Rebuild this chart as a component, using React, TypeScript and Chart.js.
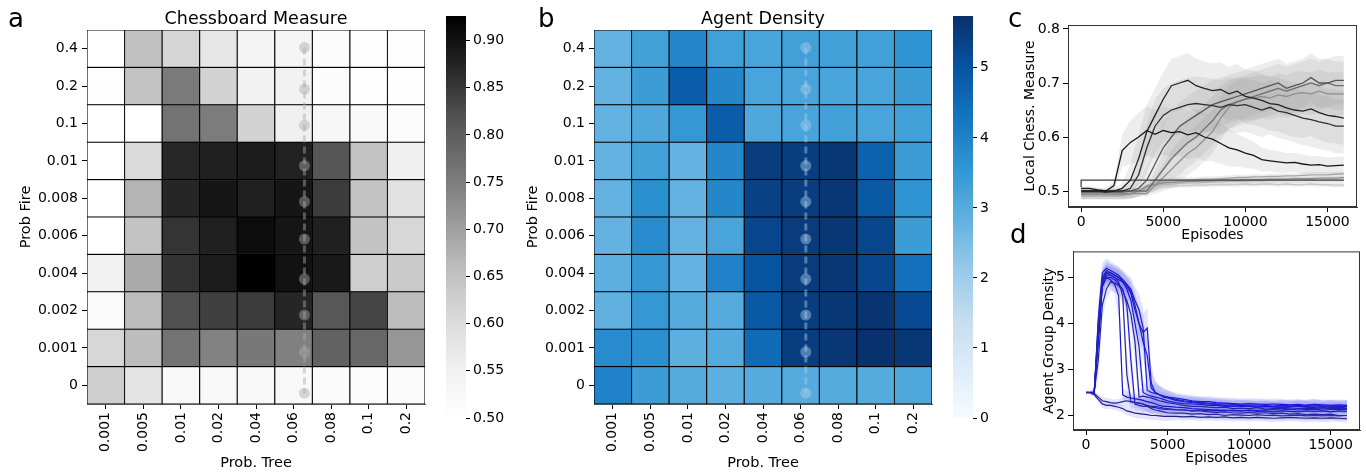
import React, { useEffect, useRef } from "react";
import { Chart, registerables } from "chart.js";

Chart.register(...registerables);

const FONT = "'DejaVu Sans', 'Liberation Sans', sans-serif";
Chart.defaults.font.family = FONT;
Chart.defaults.color = "#000";

// ---------------- heatmap data ----------------
const PROB_TREE = ["0.001", "0.005", "0.01", "0.02", "0.04", "0.06", "0.08", "0.1", "0.2"];
const PROB_FIRE = ["0.4", "0.2", "0.1", "0.01", "0.008", "0.006", "0.004", "0.002", "0.001", "0"];

// rows top (0.4) to bottom (0), columns PROB_TREE
const CHESS = [
  [0.5, 0.653, 0.615, 0.573, 0.538, 0.535, 0.51, 0.507, 0.507],
  [0.507, 0.648, 0.755, 0.617, 0.545, 0.545, 0.51, 0.503, 0.503],
  [0.5, 0.5, 0.766, 0.753, 0.617, 0.553, 0.53, 0.52, 0.51],
  [0.5, 0.605, 0.87, 0.88, 0.885, 0.878, 0.813, 0.648, 0.553],
  [0.5, 0.672, 0.871, 0.894, 0.88, 0.894, 0.845, 0.648, 0.588],
  [0.5, 0.648, 0.855, 0.88, 0.909, 0.894, 0.88, 0.648, 0.61],
  [0.546, 0.686, 0.856, 0.885, 0.924, 0.9, 0.89, 0.627, 0.637],
  [0.517, 0.66, 0.822, 0.841, 0.845, 0.871, 0.811, 0.835, 0.66],
  [0.61, 0.66, 0.766, 0.743, 0.759, 0.747, 0.794, 0.786, 0.713],
  [0.627, 0.581, 0.525, 0.525, 0.525, 0.525, 0.517, 0.51, 0.517],
];

const DENSITY = [
  [2.8, 3.3, 3.9, 3.3, 3.2, 3.3, 3.3, 3.3, 3.6],
  [2.8, 3.4, 4.8, 3.9, 3.2, 3.2, 3.2, 3.2, 3.4],
  [2.8, 3.1, 3.5, 4.8, 3.1, 3.2, 3.3, 3.2, 3.3],
  [2.8, 3.3, 2.8, 3.9, 5.5, 5.45, 5.6, 4.7, 3.4],
  [2.8, 3.7, 2.8, 3.9, 5.4, 5.45, 5.6, 4.9, 3.6],
  [2.8, 3.8, 2.8, 3.2, 5.3, 5.5, 5.6, 5.3, 3.4],
  [2.9, 3.5, 2.8, 4.0, 5.0, 5.5, 5.6, 5.3, 4.4],
  [2.85, 3.5, 3.0, 3.0, 4.9, 5.45, 5.6, 5.65, 5.2],
  [3.8, 3.7, 2.9, 3.0, 4.5, 5.45, 5.6, 5.7, 5.6],
  [4.0, 3.4, 3.0, 2.9, 3.0, 3.0, 3.0, 3.0, 3.1],
];

const CHESS_RANGE = [0.5, 0.926];
const DENSITY_RANGE = [0, 5.74];
const CHESS_TICKS = [0.5, 0.55, 0.6, 0.65, 0.7, 0.75, 0.8, 0.85, 0.9];
const DENSITY_TICKS = [0, 1, 2, 3, 4, 5];

// dashed path overlay (row positions, top to bottom)
const PATH_Y = [9.53, 8.42, 7.45, 6.37, 5.41, 4.41, 3.34, 2.38, 1.39, 0.29];
const PATH_X_A = 5.29;
const PATH_X_B = 5.14;

// colormaps
const GREYS = ["#ffffff", "#f0f0f0", "#d9d9d9", "#bdbdbd", "#969696", "#737373", "#525252", "#252525", "#000000"];
const BLUES = ["#f7fbff", "#ddecf8", "#c2dcf0", "#95c9ea", "#5eb0e0", "#2f95d2", "#1474c0", "#0753a0", "#08306b"];

// ---------------- panel c data ----------------
const EP_C = [0, 500, 1000, 1500, 2000, 2500, 3000, 3500, 4000, 4500, 5000, 5500, 6000, 6500, 7000, 7500, 8000, 8500, 9000, 9500, 10000, 10500, 11000, 11500, 12000, 12500, 13000, 13500, 14000, 14500, 15000, 15500, 16000];

const C1 = [0.505, 0.505, 0.502, 0.5, 0.51, 0.575, 0.59, 0.6, 0.612, 0.605, 0.612, 0.608, 0.61, 0.604, 0.608, 0.6, 0.596, 0.588, 0.58, 0.576, 0.57, 0.566, 0.558, 0.556, 0.554, 0.552, 0.553, 0.55, 0.548, 0.549, 0.546, 0.547, 0.548];
const C2 = [0.5, 0.5, 0.5, 0.498, 0.5, 0.505, 0.52, 0.56, 0.61, 0.64, 0.67, 0.695, 0.7, 0.705, 0.695, 0.69, 0.686, 0.688, 0.68, 0.685, 0.675, 0.672, 0.668, 0.662, 0.66, 0.654, 0.65, 0.648, 0.652, 0.645, 0.64, 0.638, 0.635];
const C3 = [0.5, 0.5, 0.5, 0.5, 0.5, 0.5, 0.505, 0.53, 0.58, 0.62, 0.64, 0.65, 0.655, 0.66, 0.662, 0.66, 0.658, 0.655, 0.66, 0.658, 0.66, 0.655, 0.65, 0.655, 0.648, 0.645, 0.64, 0.635, 0.632, 0.628, 0.625, 0.62, 0.62];
const C4 = [0.498, 0.498, 0.498, 0.498, 0.498, 0.498, 0.5, 0.505, 0.52, 0.55, 0.58, 0.6, 0.62, 0.63, 0.64, 0.65, 0.66, 0.665, 0.67, 0.675, 0.68, 0.685, 0.69, 0.695, 0.7, 0.69, 0.695, 0.7, 0.71, 0.7, 0.7, 0.705, 0.705];
const C5 = [0.5, 0.5, 0.5, 0.5, 0.5, 0.5, 0.5, 0.5, 0.5, 0.52, 0.54, 0.56, 0.575, 0.59, 0.6, 0.615, 0.63, 0.65, 0.66, 0.665, 0.67, 0.675, 0.68, 0.685, 0.69, 0.685, 0.69, 0.695, 0.7, 0.695, 0.7, 0.695, 0.695];
const C6 = [0.495, 0.495, 0.495, 0.495, 0.495, 0.495, 0.495, 0.495, 0.495, 0.51, 0.525, 0.54, 0.555, 0.57, 0.58, 0.595, 0.61, 0.635, 0.655, 0.665, 0.67, 0.672, 0.675, 0.672, 0.678, 0.675, 0.68, 0.682, 0.68, 0.685, 0.68, 0.68, 0.68];
const C7 = [0.507, 0.52, 0.52, 0.52, 0.52, 0.52, 0.52, 0.52, 0.52, 0.52, 0.52, 0.52, 0.52, 0.52, 0.52, 0.52, 0.52, 0.52, 0.52, 0.52, 0.52, 0.52, 0.52, 0.52, 0.52, 0.52, 0.52, 0.52, 0.52, 0.52, 0.52, 0.52, 0.52];
const C8 = [0.495, 0.495, 0.495, 0.495, 0.495, 0.495, 0.495, 0.5, 0.51, 0.515, 0.518, 0.52, 0.52, 0.52, 0.521, 0.522, 0.522, 0.523, 0.524, 0.525, 0.525, 0.526, 0.526, 0.527, 0.527, 0.528, 0.528, 0.529, 0.53, 0.53, 0.53, 0.531, 0.532];
const C9 = [0.49, 0.49, 0.49, 0.49, 0.49, 0.49, 0.492, 0.498, 0.505, 0.51, 0.512, 0.513, 0.514, 0.515, 0.515, 0.516, 0.517, 0.517, 0.518, 0.518, 0.518, 0.519, 0.519, 0.52, 0.52, 0.52, 0.52, 0.52, 0.521, 0.52, 0.521, 0.52, 0.52];
const C10 = [0.487, 0.487, 0.487, 0.487, 0.487, 0.487, 0.488, 0.492, 0.5, 0.505, 0.508, 0.509, 0.51, 0.51, 0.511, 0.511, 0.512, 0.512, 0.512, 0.512, 0.513, 0.512, 0.513, 0.513, 0.512, 0.513, 0.512, 0.512, 0.513, 0.512, 0.512, 0.511, 0.511];
const C11 = [0.493, 0.493, 0.493, 0.493, 0.493, 0.493, 0.495, 0.5, 0.508, 0.512, 0.515, 0.516, 0.517, 0.518, 0.518, 0.519, 0.519, 0.52, 0.52, 0.52, 0.521, 0.521, 0.521, 0.522, 0.522, 0.522, 0.523, 0.523, 0.523, 0.524, 0.524, 0.524, 0.525];

const C1_SD = [0.004, 0.004, 0.004, 0.004, 0.01, 0.03, 0.04, 0.045, 0.045, 0.045, 0.045, 0.045, 0.045, 0.045, 0.045, 0.045, 0.04, 0.038, 0.035, 0.03, 0.028, 0.025, 0.022, 0.02, 0.02, 0.018, 0.018, 0.018, 0.016, 0.016, 0.016, 0.016, 0.016];
const C2_SD = [0.004, 0.004, 0.004, 0.004, 0.006, 0.01, 0.03, 0.045, 0.05, 0.05, 0.05, 0.05, 0.05, 0.05, 0.05, 0.05, 0.05, 0.05, 0.05, 0.05, 0.05, 0.05, 0.05, 0.05, 0.05, 0.05, 0.05, 0.05, 0.05, 0.05, 0.05, 0.05, 0.05];
const C3_SD = [0.004, 0.004, 0.004, 0.004, 0.004, 0.004, 0.01, 0.03, 0.045, 0.05, 0.05, 0.05, 0.05, 0.05, 0.05, 0.05, 0.05, 0.05, 0.05, 0.05, 0.05, 0.05, 0.05, 0.05, 0.05, 0.05, 0.05, 0.05, 0.05, 0.05, 0.05, 0.05, 0.05];
const C4_SD = [0.004, 0.004, 0.004, 0.004, 0.004, 0.004, 0.004, 0.01, 0.03, 0.04, 0.045, 0.045, 0.045, 0.045, 0.045, 0.045, 0.045, 0.045, 0.045, 0.045, 0.045, 0.045, 0.045, 0.045, 0.045, 0.045, 0.045, 0.045, 0.045, 0.045, 0.045, 0.045, 0.045];
const C5_SD = [0.004, 0.004, 0.004, 0.004, 0.004, 0.004, 0.004, 0.004, 0.004, 0.02, 0.03, 0.04, 0.045, 0.045, 0.045, 0.045, 0.045, 0.045, 0.045, 0.045, 0.045, 0.045, 0.045, 0.045, 0.045, 0.045, 0.045, 0.045, 0.045, 0.045, 0.045, 0.045, 0.045];
const C6_SD = [0.004, 0.004, 0.004, 0.004, 0.004, 0.004, 0.004, 0.004, 0.004, 0.015, 0.025, 0.035, 0.04, 0.04, 0.04, 0.04, 0.04, 0.04, 0.04, 0.04, 0.04, 0.04, 0.04, 0.04, 0.04, 0.04, 0.04, 0.04, 0.04, 0.04, 0.04, 0.04, 0.04];
const C7_SD = [0.002, 0.002, 0.002, 0.002, 0.002, 0.002, 0.002, 0.002, 0.002, 0.002, 0.002, 0.002, 0.002, 0.002, 0.002, 0.002, 0.002, 0.002, 0.002, 0.002, 0.002, 0.002, 0.002, 0.002, 0.002, 0.002, 0.002, 0.002, 0.002, 0.002, 0.002, 0.002, 0.002];
const C8_SD = [0.004, 0.004, 0.004, 0.004, 0.004, 0.004, 0.004, 0.005, 0.006, 0.006, 0.005, 0.005, 0.005, 0.005, 0.005, 0.005, 0.005, 0.005, 0.005, 0.005, 0.005, 0.005, 0.005, 0.005, 0.005, 0.005, 0.005, 0.005, 0.005, 0.005, 0.005, 0.005, 0.005];
const C9_SD = [0.004, 0.004, 0.004, 0.004, 0.004, 0.004, 0.004, 0.005, 0.006, 0.006, 0.005, 0.005, 0.005, 0.005, 0.005, 0.005, 0.005, 0.005, 0.005, 0.005, 0.005, 0.005, 0.005, 0.005, 0.005, 0.005, 0.005, 0.005, 0.005, 0.005, 0.005, 0.005, 0.005];
const C10_SD = [0.003, 0.003, 0.003, 0.003, 0.003, 0.003, 0.003, 0.004, 0.005, 0.005, 0.004, 0.004, 0.004, 0.004, 0.004, 0.004, 0.004, 0.004, 0.004, 0.004, 0.004, 0.004, 0.004, 0.004, 0.004, 0.004, 0.004, 0.004, 0.004, 0.004, 0.004, 0.004, 0.004];
const C11_SD = [0.003, 0.003, 0.003, 0.003, 0.003, 0.003, 0.003, 0.004, 0.005, 0.005, 0.004, 0.004, 0.004, 0.004, 0.004, 0.004, 0.004, 0.004, 0.004, 0.004, 0.004, 0.004, 0.004, 0.004, 0.004, 0.004, 0.004, 0.004, 0.004, 0.004, 0.004, 0.004, 0.004];

const C_MEANS = [C1, C2, C3, C7, C4, C5, C11, C6, C8, C9, C10];
const C_SDS = [C1_SD, C2_SD, C3_SD, C7_SD, C4_SD, C5_SD, C11_SD, C6_SD, C8_SD, C9_SD, C10_SD];
const C_COLORS = ["#151515", "#222222", "#2e2e2e", "#474747", "#555555", "#6c6c6c", "#8a8a8a", "#8f8f8f", "#a5a5a5", "#b5b5b5", "#c8c8c8"];
const C_STEPPED = [false, false, false, true, false, false, false, false, false, false, false];

// ---------------- panel d data ----------------
const EP_D = [0, 250, 500, 750, 1000, 1250, 1500, 1750, 2000, 2250, 2500, 2750, 3000, 3250, 3500, 3750, 4000, 4250, 4500, 4750, 5000, 5500, 6000, 6500, 7000, 7500, 8000, 8500, 9000, 9500, 10000, 10500, 11000, 11500, 12000, 12500, 13000, 13500, 14000, 14500, 15000, 15500, 16000];

const D1 = [2.5, 2.5, 2.48, 2.4, 2.32, 2.3, 2.28, 2.27, 2.28, 2.3, 2.32, 2.3, 2.28, 2.27, 2.25, 2.22, 2.2, 2.2, 2.18, 2.16, 2.15, 2.13, 2.12, 2.1, 2.1, 2.08, 2.07, 2.08, 2.06, 2.05, 2.07, 2.05, 2.06, 2.04, 2.05, 2.03, 2.04, 2.02, 2.03, 2.02, 2.03, 2.0, 2.0];
const D2 = [2.5, 2.5, 2.45, 2.35, 2.25, 2.22, 2.22, 2.2, 2.18, 2.15, 2.1, 2.08, 2.05, 2.04, 2.03, 2.02, 2.0, 2.0, 1.99, 1.98, 1.98, 1.98, 1.97, 1.98, 1.96, 1.97, 1.96, 1.97, 1.95, 1.96, 1.95, 1.96, 1.95, 1.94, 1.95, 1.96, 1.95, 1.94, 1.95, 1.94, 1.95, 1.94, 1.93];
const D3 = [2.5, 2.5, 2.5, 3.6, 4.8, 5.0, 4.95, 4.85, 4.6, 2.45, 2.4, 2.38, 2.36, 2.35, 2.33, 2.3, 2.28, 2.25, 2.22, 2.2, 2.2, 2.18, 2.17, 2.15, 2.14, 2.13, 2.12, 2.12, 2.1, 2.1, 2.11, 2.09, 2.1, 2.08, 2.1, 2.09, 2.08, 2.1, 2.09, 2.1, 2.08, 2.1, 2.09];
const D4 = [2.5, 2.5, 2.5, 3.9, 4.95, 5.1, 5.05, 5.0, 4.9, 4.6, 2.9, 2.3, 2.28, 2.27, 2.25, 2.2, 2.15, 2.12, 2.1, 2.08, 2.06, 2.05, 2.05, 2.03, 2.04, 2.02, 2.03, 2.0, 2.02, 2.01, 2.0, 2.02, 2.0, 2.01, 1.99, 2.0, 2.01, 1.99, 2.0, 1.99, 2.0, 1.99, 2.0];
const D5 = [2.5, 2.5, 2.5, 3.7, 4.85, 5.0, 5.0, 4.95, 4.85, 4.75, 4.4, 3.2, 2.25, 2.22, 2.2, 2.2, 2.18, 2.17, 2.15, 2.14, 2.13, 2.12, 2.12, 2.1, 2.12, 2.1, 2.11, 2.1, 2.12, 2.1, 2.12, 2.11, 2.12, 2.13, 2.12, 2.14, 2.12, 2.13, 2.14, 2.12, 2.13, 2.14, 2.13];
const D6 = [2.5, 2.5, 2.5, 3.2, 4.4, 4.75, 4.9, 4.88, 4.82, 4.7, 4.5, 4.2, 3.6, 2.4, 2.42, 2.4, 2.38, 2.35, 2.32, 2.3, 2.28, 2.25, 2.22, 2.2, 2.2, 2.18, 2.17, 2.18, 2.15, 2.16, 2.15, 2.17, 2.14, 2.15, 2.16, 2.14, 2.15, 2.16, 2.15, 2.17, 2.15, 2.16, 2.15];
const D7 = [2.5, 2.5, 2.5, 3.8, 4.95, 5.1, 5.1, 5.05, 5.0, 4.9, 4.75, 4.5, 4.0, 3.5, 2.5, 2.45, 2.42, 2.4, 2.38, 2.35, 2.32, 2.28, 2.26, 2.25, 2.24, 2.22, 2.22, 2.2, 2.21, 2.2, 2.2, 2.19, 2.2, 2.2, 2.21, 2.2, 2.22, 2.2, 2.21, 2.2, 2.21, 2.2, 2.2];
const D8 = [2.5, 2.5, 2.5, 4.0, 5.0, 5.15, 5.1, 5.05, 5.0, 4.95, 4.85, 4.7, 4.4, 4.0, 3.8, 3.9, 2.7, 2.5, 2.45, 2.42, 2.4, 2.35, 2.32, 2.3, 2.28, 2.27, 2.25, 2.25, 2.24, 2.23, 2.22, 2.23, 2.22, 2.2, 2.22, 2.21, 2.2, 2.22, 2.24, 2.2, 2.22, 2.2, 2.22];
const D9 = [2.5, 2.5, 2.5, 3.7, 4.9, 5.05, 5.05, 5.0, 4.95, 4.9, 4.8, 4.65, 4.3, 4.0, 3.6, 3.3, 2.6, 2.5, 2.45, 2.42, 2.4, 2.38, 2.35, 2.32, 2.3, 2.3, 2.28, 2.27, 2.26, 2.25, 2.26, 2.25, 2.24, 2.25, 2.24, 2.23, 2.24, 2.22, 2.24, 2.23, 2.22, 2.23, 2.22];
const D10 = [2.5, 2.5, 2.5, 4.1, 5.1, 5.2, 5.15, 5.1, 5.05, 4.95, 4.85, 4.75, 4.5, 4.3, 3.9, 2.55, 2.5, 2.48, 2.45, 2.4, 2.38, 2.33, 2.3, 2.28, 2.27, 2.25, 2.24, 2.22, 2.2, 2.22, 2.2, 2.18, 2.19, 2.18, 2.17, 2.18, 2.2, 2.18, 2.17, 2.16, 2.17, 2.18, 2.16];

const D1_SD = [0.03, 0.03, 0.04, 0.06, 0.08, 0.08, 0.08, 0.08, 0.08, 0.1, 0.12, 0.12, 0.12, 0.12, 0.12, 0.12, 0.12, 0.1, 0.1, 0.1, 0.1, 0.09, 0.09, 0.09, 0.08, 0.08, 0.08, 0.08, 0.08, 0.08, 0.08, 0.08, 0.08, 0.08, 0.08, 0.08, 0.08, 0.08, 0.1, 0.1, 0.1, 0.1, 0.1];
const D2_SD = [0.03, 0.03, 0.04, 0.06, 0.08, 0.08, 0.08, 0.08, 0.08, 0.08, 0.1, 0.1, 0.1, 0.1, 0.1, 0.1, 0.1, 0.1, 0.1, 0.1, 0.1, 0.08, 0.08, 0.08, 0.08, 0.08, 0.08, 0.08, 0.08, 0.08, 0.08, 0.08, 0.08, 0.08, 0.08, 0.08, 0.08, 0.08, 0.08, 0.08, 0.08, 0.08, 0.08];
const D3_SD = [0.03, 0.03, 0.05, 0.4, 0.2, 0.18, 0.18, 0.2, 0.5, 0.15, 0.12, 0.12, 0.12, 0.12, 0.12, 0.12, 0.12, 0.12, 0.12, 0.12, 0.12, 0.1, 0.1, 0.1, 0.1, 0.1, 0.1, 0.1, 0.1, 0.1, 0.1, 0.1, 0.1, 0.1, 0.1, 0.1, 0.1, 0.1, 0.1, 0.1, 0.1, 0.1, 0.1];
const D4_SD = [0.03, 0.03, 0.05, 0.4, 0.2, 0.2, 0.18, 0.18, 0.2, 0.25, 0.5, 0.15, 0.12, 0.12, 0.12, 0.12, 0.12, 0.1, 0.1, 0.1, 0.1, 0.1, 0.1, 0.1, 0.1, 0.1, 0.1, 0.1, 0.1, 0.1, 0.1, 0.1, 0.1, 0.1, 0.1, 0.1, 0.1, 0.1, 0.1, 0.1, 0.1, 0.1, 0.1];
const D5_SD = [0.03, 0.03, 0.05, 0.4, 0.2, 0.18, 0.18, 0.18, 0.18, 0.2, 0.3, 0.5, 0.15, 0.12, 0.12, 0.12, 0.12, 0.12, 0.12, 0.12, 0.12, 0.1, 0.1, 0.1, 0.1, 0.1, 0.1, 0.1, 0.1, 0.1, 0.1, 0.1, 0.1, 0.1, 0.1, 0.1, 0.1, 0.1, 0.1, 0.1, 0.1, 0.1, 0.1];
const D6_SD = [0.03, 0.03, 0.05, 0.4, 0.3, 0.2, 0.2, 0.2, 0.2, 0.2, 0.25, 0.3, 0.5, 0.2, 0.15, 0.15, 0.12, 0.12, 0.12, 0.12, 0.12, 0.1, 0.1, 0.1, 0.1, 0.1, 0.1, 0.1, 0.1, 0.1, 0.1, 0.1, 0.1, 0.1, 0.1, 0.1, 0.1, 0.1, 0.1, 0.1, 0.1, 0.1, 0.1];
const D7_SD = [0.03, 0.03, 0.05, 0.4, 0.2, 0.2, 0.2, 0.2, 0.2, 0.2, 0.25, 0.3, 0.35, 0.5, 0.25, 0.18, 0.15, 0.15, 0.15, 0.15, 0.15, 0.12, 0.12, 0.12, 0.12, 0.12, 0.12, 0.12, 0.12, 0.12, 0.12, 0.12, 0.12, 0.12, 0.12, 0.12, 0.12, 0.12, 0.12, 0.12, 0.12, 0.12, 0.12];
const D8_SD = [0.03, 0.03, 0.05, 0.4, 0.2, 0.2, 0.2, 0.2, 0.2, 0.2, 0.2, 0.25, 0.3, 0.35, 0.4, 0.45, 0.4, 0.25, 0.2, 0.18, 0.15, 0.12, 0.12, 0.12, 0.12, 0.12, 0.12, 0.12, 0.12, 0.12, 0.12, 0.12, 0.12, 0.12, 0.12, 0.12, 0.12, 0.12, 0.12, 0.12, 0.12, 0.12, 0.12];
const D9_SD = [0.03, 0.03, 0.05, 0.4, 0.2, 0.2, 0.2, 0.2, 0.2, 0.2, 0.2, 0.25, 0.3, 0.35, 0.4, 0.4, 0.35, 0.25, 0.2, 0.18, 0.15, 0.12, 0.12, 0.12, 0.12, 0.12, 0.12, 0.12, 0.12, 0.12, 0.12, 0.12, 0.12, 0.12, 0.12, 0.12, 0.12, 0.12, 0.12, 0.12, 0.12, 0.12, 0.12];
const D10_SD = [0.03, 0.03, 0.05, 0.4, 0.22, 0.22, 0.2, 0.2, 0.2, 0.2, 0.22, 0.25, 0.3, 0.35, 0.45, 0.35, 0.25, 0.2, 0.18, 0.15, 0.15, 0.12, 0.12, 0.12, 0.12, 0.12, 0.12, 0.12, 0.12, 0.12, 0.12, 0.12, 0.12, 0.12, 0.12, 0.12, 0.12, 0.12, 0.12, 0.12, 0.12, 0.12, 0.12];

const D_MEANS = [D1, D2, D3, D4, D5, D6, D7, D8, D9, D10];
const D_SDS = [D1_SD, D2_SD, D3_SD, D4_SD, D5_SD, D6_SD, D7_SD, D8_SD, D9_SD, D10_SD];
const D_COLORS = ["#27279a", "#23238a", "#1a1acc", "#2a2a99", "#1c1ce0", "#25259f", "#1818d8", "#1f1fc0", "#1414e6", "#1c1cd0"];

const EP_TICKS = [0, 5000, 10000, 15000];
const C_YTICKS = [0.5, 0.6, 0.7, 0.8];
const D_YTICKS = [2, 3, 4, 5];

// ---------------- helpers ----------------
function hexToRgb(h: string) {
  return [parseInt(h.slice(1, 3), 16), parseInt(h.slice(3, 5), 16), parseInt(h.slice(5, 7), 16)];
}
function cmap(stops: string[], t: number) {
  const tt = Math.max(0, Math.min(1, t));
  const n = stops.length - 1;
  const p = tt * n;
  const i = Math.min(Math.floor(p), n - 1);
  const f = p - i;
  const a = hexToRgb(stops[i]);
  const b = hexToRgb(stops[i + 1]);
  const c = a.map((v, k) => Math.round(v + (b[k] - v) * f));
  return `rgb(${c[0]},${c[1]},${c[2]})`;
}

const tickFont = { family: FONT, size: 14 };
const labelFont = { family: FONT, size: 14.5 };

function heatmapConfig(values: number[][], stops: string[], range: number[], title: string, pathX: number, dotColor: string) {
  const cells: any[] = [];
  const colors: string[] = [];
  values.forEach((row, r) =>
    row.forEach((v, c) => {
      cells.push({ x: c, y: [9 - r, 10 - r] });
      colors.push(cmap(stops, (v - range[0]) / (range[1] - range[0])));
    })
  );
  const path = PATH_Y.map((y) => ({ x: pathX, y }));
  return {
    type: "bar",
    data: {
      datasets: [
        {
          type: "line",
          data: path,
          borderColor: dotColor,
          backgroundColor: dotColor,
          borderDash: [7, 4],
          borderWidth: 3,
          pointRadius: 5.5,
          pointBackgroundColor: dotColor,
          pointBorderWidth: 0,
          fill: false,
          order: 0,
        },
        {
          type: "bar",
          data: cells,
          backgroundColor: colors,
          borderColor: "#000",
          borderWidth: 0.9,
          borderSkipped: false,
          barPercentage: 1,
          categoryPercentage: 1,
          order: 1,
        },
      ],
    },
    options: {
      animation: false,
      responsive: true,
      maintainAspectRatio: false,
      events: [],
      layout: { padding: { left: 0, right: 15, top: 1, bottom: 1 } },
      plugins: {
        legend: { display: false },
        tooltip: { enabled: false },
        title: {
          display: true,
          text: title,
          fullSize: false,
          color: "#000",
          font: { family: FONT, size: 17.5, weight: "normal" },
          padding: { top: 8, bottom: 0 },
        },
      },
      scales: {
        x: {
          type: "linear",
          min: -0.5,
          max: 8.5,
          offset: false,
          afterBuildTicks: (s: any) => {
            s.ticks = PROB_TREE.map((_, i) => ({ value: i }));
          },
          afterFit: (s: any) => {
            s.height = 68;
          },
          ticks: {
            autoSkip: false,
            minRotation: 90,
            maxRotation: 90,
            padding: 3,
            color: "#000",
            font: tickFont,
            callback: (_v: any, i: number) => PROB_TREE[i],
          },
          grid: { offset: false, drawOnChartArea: false, drawTicks: true, tickLength: 5, color: "#000" },
          border: { display: true, color: "#555" },
          title: { display: true, text: "Prob. Tree", color: "#000", font: labelFont, padding: { top: 0, bottom: 0 } },
        },
        y: {
          type: "linear",
          min: 0,
          max: 10,
          afterBuildTicks: (s: any) => {
            s.ticks = PROB_FIRE.map((_, i) => ({ value: i + 0.5 }));
          },
          afterFit: (s: any) => {
            s.width = 87;
          },
          ticks: {
            autoSkip: false,
            padding: 4,
            color: "#000",
            font: tickFont,
            callback: (_v: any, i: number) => PROB_FIRE[9 - i],
          },
          grid: { drawOnChartArea: false, drawTicks: true, tickLength: 5, color: "#000" },
          border: { display: true, color: "#555" },
          title: { display: true, text: "Prob Fire", color: "#000", font: labelFont, padding: { top: 18, bottom: 0 } },
        },
      },
    },
  };
}

function colorbarConfig(stops: string[], range: number[], ticks: number[], fmt: (v: number) => string) {
  return {
    type: "bar",
    data: {
      labels: ["cb"],
      datasets: [
        {
          data: [[range[0], range[1]]],
          backgroundColor: (ctx: any) => {
            const area = ctx.chart.chartArea;
            if (!area) return stops[0];
            const g = ctx.chart.ctx.createLinearGradient(0, area.bottom, 0, area.top);
            stops.forEach((s, i) => g.addColorStop(i / (stops.length - 1), s));
            return g;
          },
          borderWidth: 0,
          barPercentage: 1,
          categoryPercentage: 1,
        },
      ],
    },
    options: {
      animation: false,
      responsive: true,
      maintainAspectRatio: false,
      events: [],
      layout: { padding: { left: 16, right: 0, top: 16, bottom: 55 } },
      plugins: { legend: { display: false }, tooltip: { enabled: false } },
      scales: {
        x: { display: false },
        y: {
          position: "right",
          min: range[0],
          max: range[1],
          afterBuildTicks: (s: any) => {
            s.ticks = ticks.map((v) => ({ value: v }));
          },
          afterFit: (s: any) => {
            s.width = 64;
          },
          ticks: { color: "#000", font: tickFont, padding: 3, callback: (v: any) => fmt(Number(v)) },
          grid: { drawOnChartArea: false, tickLength: 4, color: "#000" },
          border: { display: false },
        },
      },
    },
  };
}

const framePlugin = {
  id: "frame",
  afterDraw(chart: any) {
    const { ctx, chartArea: a } = chart;
    ctx.save();
    ctx.strokeStyle = "#333";
    ctx.lineWidth = 1;
    ctx.strokeRect(a.left + 0.5, a.top + 0.5, a.right - a.left - 1, a.bottom - a.top - 1);
    ctx.restore();
  },
};

function lineConfig(p: any) {
  const datasets: any[] = [];
  const stepOf = (k: number) => (p.stepped && p.stepped[k] ? "after" : false);
  p.means.forEach((m: number[], k: number) => {
    const s = p.sds[k];
    datasets.push({
      data: p.xs.map((x: number, i: number) => ({ x, y: m[i] + s[i] })),
      borderColor: "transparent",
      borderWidth: 0,
      pointRadius: 0,
      fill: "+1",
      backgroundColor: p.band,
      stepped: stepOf(k),
    });
    datasets.push({
      data: p.xs.map((x: number, i: number) => ({ x, y: m[i] - s[i] })),
      borderColor: "transparent",
      borderWidth: 0,
      pointRadius: 0,
      fill: false,
      stepped: stepOf(k),
    });
  });
  p.means.forEach((m: number[], k: number) => {
    datasets.push({
      data: p.xs.map((x: number, i: number) => ({ x, y: m[i] })),
      borderColor: p.colors[k],
      borderWidth: p.lw,
      pointRadius: 0,
      fill: false,
      stepped: stepOf(k),
    });
  });
  return {
    type: "line",
    data: { datasets },
    plugins: [framePlugin],
    options: {
      animation: false,
      responsive: true,
      maintainAspectRatio: false,
      events: [],
      layout: { padding: p.padding },
      plugins: {
        legend: { display: false },
        tooltip: { enabled: false },
        filler: { drawTime: "beforeDatasetsDraw" },
      },
      scales: {
        x: {
          type: "linear",
          min: -800,
          max: 16800,
          afterBuildTicks: (s: any) => {
            s.ticks = EP_TICKS.map((v) => ({ value: v }));
          },
          afterFit: (s: any) => {
            s.height = p.xh;
          },
          ticks: { color: "#000", font: tickFont, padding: 2, maxRotation: 0, callback: (v: any) => String(v) },
          grid: { drawOnChartArea: false, tickLength: 5, color: "#000" },
          border: { display: true, color: "#333" },
          title: { display: true, text: "Episodes", color: "#000", font: tickFont, padding: { top: 0, bottom: p.xtpad } },
        },
        y: {
          type: "linear",
          min: p.ymin,
          max: p.ymax,
          afterBuildTicks: (s: any) => {
            s.ticks = p.yticks.map((v: number) => ({ value: v }));
          },
          afterFit: (s: any) => {
            s.width = p.yw;
          },
          ticks: { color: "#000", font: tickFont, padding: 3, callback: p.yfmt },
          grid: { drawOnChartArea: false, tickLength: 5, color: "#000" },
          border: { display: true, color: "#333" },
          title: { display: true, text: p.ytitle, color: "#000", font: tickFont, padding: { top: p.ytpad, bottom: 0 } },
        },
      },
    },
  };
}

function ChartBox({ left, top, width, height, make }: any) {
  const ref = useRef<HTMLCanvasElement>(null);
  useEffect(() => {
    const chart = new Chart(ref.current as HTMLCanvasElement, make());
    return () => chart.destroy();
  }, []);
  return (
    <div style={{ position: "absolute", left, top, width, height }}>
      <canvas ref={ref} />
    </div>
  );
}

const letterStyle = (left: number, top: number): React.CSSProperties => ({
  position: "absolute",
  left,
  top,
  fontFamily: FONT,
  fontSize: 26,
  lineHeight: "26px",
  color: "#000",
  zIndex: 5,
});

export default function App() {
  return (
    <div style={{ position: "fixed", left: 0, top: 0, width: 1366, height: 473, background: "#fff", overflow: "hidden" }}>
      <ChartBox
        left={0}
        top={0}
        width={440}
        height={473}
        make={() => heatmapConfig(CHESS, GREYS, CHESS_RANGE, "Chessboard Measure", PATH_X_A, "rgba(170,170,170,0.45)")}
      />
      <ChartBox left={430} top={0} width={100} height={473} make={() => colorbarConfig(GREYS, CHESS_RANGE, CHESS_TICKS, (v) => v.toFixed(2))} />
      <ChartBox
        left={507}
        top={0}
        width={440}
        height={473}
        make={() => heatmapConfig(DENSITY, BLUES, DENSITY_RANGE, "Agent Density", PATH_X_B, "rgba(170,205,235,0.45)")}
      />
      <ChartBox left={937} top={0} width={100} height={473} make={() => colorbarConfig(BLUES, DENSITY_RANGE, DENSITY_TICKS, (v) => String(Math.round(v)))} />
      <ChartBox
        left={1020}
        top={0}
        width={346}
        height={245}
        make={() =>
          lineConfig({
            xs: EP_C,
            means: C_MEANS,
            sds: C_SDS,
            colors: C_COLORS,
            stepped: C_STEPPED,
            band: "rgba(140,140,140,0.16)",
            lw: 1.3,
            padding: { left: 0, right: 9, top: 25, bottom: 0 },
            xh: 38,
            xtpad: 1.6,
            yw: 48,
            ymin: 0.4704,
            ymax: 0.8074,
            yticks: C_YTICKS,
            yfmt: (v: any) => Number(v).toFixed(1),
            ytitle: "Local Chess. Measure",
            ytpad: 2,
          })
        }
      />
      <ChartBox
        left={1020}
        top={240}
        width={346}
        height={233}
        make={() =>
          lineConfig({
            xs: EP_D,
            means: D_MEANS,
            sds: D_SDS,
            colors: D_COLORS,
            band: "rgba(120,120,240,0.2)",
            lw: 1.2,
            padding: { left: 0, right: 6, top: 5, bottom: 5 },
            xh: 38,
            xtpad: 1,
            yw: 53,
            ymin: 1.685,
            ymax: 5.566,
            yticks: D_YTICKS,
            yfmt: (v: any) => String(Math.round(Number(v))),
            ytitle: "Agent Group Density",
            ytpad: 20.6,
          })
        }
      />
      <div style={letterStyle(8, 5)}>a</div>
      <div style={letterStyle(538, 5)}>b</div>
      <div style={letterStyle(1008, 5)}>c</div>
      <div style={letterStyle(1010, 221)}>d</div>
    </div>
  );
}
